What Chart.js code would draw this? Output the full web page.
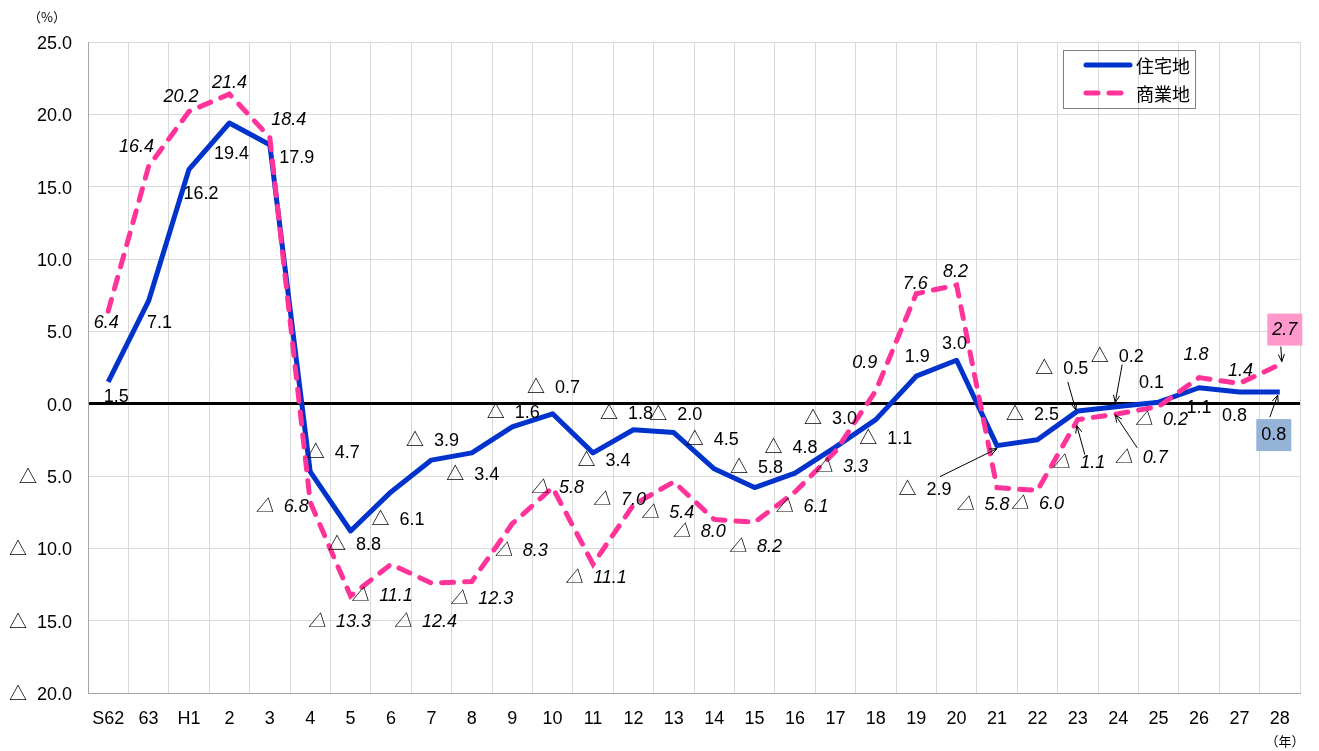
<!DOCTYPE html>
<html><head><meta charset="utf-8">
<script src="https://cdn.jsdelivr.net/npm/chart.js@4"></script>
<style>html,body{margin:0;padding:0;background:#fff;}#wrap{width:1319px;height:751px;position:relative;}</style>
</head><body><div id="wrap"><canvas id="c" width="1319" height="751"></canvas></div>
<script>
const categories = ['S62','63','H1','2','3','4','5','6','7','8','9','10','11','12','13','14','15','16','17','18','19','20','21','22','23','24','25','26','27','28'];
const residential = [1.5,7.1,16.2,19.4,17.9,-4.7,-8.8,-6.1,-3.9,-3.4,-1.6,-0.7,-3.4,-1.8,-2.0,-4.5,-5.8,-4.8,-3.0,-1.1,1.9,3.0,-2.9,-2.5,-0.5,-0.2,0.1,1.1,0.8,0.8];
const commercial = [6.4,16.4,20.2,21.4,18.4,-6.8,-13.3,-11.1,-12.4,-12.3,-8.3,-5.8,-11.1,-7.0,-5.4,-8.0,-8.2,-6.1,-3.3,0.9,7.6,8.2,-5.8,-6.0,-1.1,-0.7,-0.2,1.8,1.4,2.7];
const yTicks = [25,20,15,10,5,0,-5,-10,-15,-20];
const seriesNames = ['住宅地','商業地'];

// label placement (pixel offsets from the data point)
const resOffsets = [[8,15],[11,22],[12,25],[2,31],[27,13],[23,-19],[4,14],[7,28],[1,-19],[1,22],[1,-14],[1,-26],[11,8],[-7,-16],[2,-18],[-2,-29],[2,-20],[-4,-25],[-5,-28],[10,19],[1,-19],[-2,-16],[-72,44],[-5,-25],[-16,-42],[-1,-50],[-7,-19],[0,20],[-5,24],[-6,43]];
const comOffsets = [[-2,12],[-12,-19],[-8,-14],[0,-11],[19,-17],[-28,5],[-11,26],[-9,32],[-6,39],[10,17],[9,27],[5,0],[3,14],[-14,-5],[-6,31],[-15,13],[1,25],[7,15],[6,16],[-11,-28],[-1,-10],[-1,-13],[-14,17],[0,14],[1,43],[23,44],[3,13],[-3,-23],[1,-12],[5,-35]];
const resArrows = {22:[-57,31,0,3],24:[-10,-29,-2,-1],25:[4,-42,-3,-4],29:[-10,25,-2,3]};
const comArrows = {24:[7,35,-1,6],25:[19,34,-3,1],29:[1,-18,2,-3]};
const resBox = {29:'#95B3D7'};
const comBox = {29:'#FF99CC'};

const BLUE = '#0033CC', PINK = '#FF3399';
const FONT = "'Liberation Sans', 'Noto Sans CJK JP', sans-serif";
const JFONT = "'Noto Sans CJK JP', sans-serif";

function fmt(v){ return v < 0 ? '△  ' + Math.abs(v).toFixed(1) : v.toFixed(1); }

function arrow(ctx, x1,y1,x2,y2){
  ctx.beginPath(); ctx.moveTo(x1,y1); ctx.lineTo(x2,y2); ctx.stroke();
  const a = Math.atan2(y2-y1,x2-x1), L=8, w=0.4;
  ctx.beginPath();
  ctx.moveTo(x2 - L*Math.cos(a-w), y2 - L*Math.sin(a-w));
  ctx.lineTo(x2,y2);
  ctx.lineTo(x2 - L*Math.cos(a+w), y2 - L*Math.sin(a+w));
  ctx.stroke();
}

const labelPlugin = {
  id:'labels',
  afterDatasetsDraw(chart){
    const ctx = chart.ctx;
    const sets = [
      {meta: chart.getDatasetMeta(0), data: residential, off: resOffsets, arr: resArrows, box: resBox, italic:false},
      {meta: chart.getDatasetMeta(1), data: commercial, off: comOffsets, arr: comArrows, box: comBox, italic:true}
    ];
    ctx.save();
    sets.forEach(s=>{
      s.data.forEach((v,i)=>{
        const p = s.meta.data[i];
        const x = p.x + s.off[i][0], y = p.y + s.off[i][1];
        const txt = fmt(v);
        ctx.font = (s.italic?'italic ':'') + '18px ' + FONT;
        ctx.textAlign='center'; ctx.textBaseline='middle';
        if (s.box[i]) {
          const w = ctx.measureText(txt).width + 10;
          ctx.fillStyle = s.box[i];
          ctx.fillRect(x - w/2, y - 16, w, 32);
        }
        ctx.fillStyle='#000';
        ctx.fillText(txt, x, y);
        if (s.arr[i]) {
          const a = s.arr[i];
          ctx.strokeStyle='#000'; ctx.lineWidth=1;
          arrow(ctx, p.x+a[0], p.y+a[1], p.x+a[2], p.y+a[3]);
        }
      });
    });
    // axis unit labels
    ctx.font = '13px ' + JFONT; ctx.fillStyle='#000'; ctx.textAlign='center'; ctx.textBaseline='middle';
    ctx.fillText('（%）', 47, 17);
    ctx.fillText('（年）', 1285, 741);
    // legend
    ctx.strokeStyle='#7f7f7f'; ctx.lineWidth=1;
    ctx.strokeRect(1063.5, 50.5, 132, 58);
    ctx.lineCap='round';
    ctx.strokeStyle=BLUE; ctx.lineWidth=5; ctx.setLineDash([]);
    ctx.beginPath(); ctx.moveTo(1086,65); ctx.lineTo(1130,65); ctx.stroke();
    ctx.strokeStyle=PINK; ctx.setLineDash([12,11]);
    ctx.beginPath(); ctx.moveTo(1086,93); ctx.lineTo(1130,93); ctx.stroke();
    ctx.setLineDash([]);
    ctx.font = '18px ' + JFONT; ctx.fillStyle='#000'; ctx.textAlign='left';
    ctx.fillText(seriesNames[0], 1136, 66);
    ctx.fillText(seriesNames[1], 1136, 94);
    ctx.restore();
  }
};

new Chart(document.getElementById('c'), {
  type:'line',
  data:{
    labels: categories,
    datasets:[
      {label:seriesNames[0], data:residential, borderColor:BLUE, borderWidth:5, pointRadius:0, tension:0, order:1, borderJoinStyle:'round'},
      {label:seriesNames[1], data:commercial, borderColor:PINK, borderWidth:5, borderDash:[12,11], borderCapStyle:'round', pointRadius:0, tension:0, order:0}
    ]
  },
  options:{
    responsive:false, animation:false, devicePixelRatio:1,
    layout:{padding:{top:42,right:19,bottom:0,left:0}},
    plugins:{legend:{display:false}, tooltip:{enabled:false}},
    scales:{
      x:{
        offset:true,
        grid:{offset:true, color:'#d9d9d9', drawTicks:false},
        border:{color:'#a6a6a6', width:1},
        ticks:{color:'#000', font:{family:FONT, size:18}, padding:15, maxRotation:0, autoSkip:false},
        afterFit(s){ s.height = 58; }
      },
      y:{
        min:-20, max:25,
        afterBuildTicks(s){ s.ticks = yTicks.map(v=>({value:v})); },
        grid:{drawTicks:false,
          color:c=> c.tick && c.tick.value===0 ? '#000' : '#d9d9d9',
          lineWidth:c=> c.tick && c.tick.value===0 ? 3 : 1},
        border:{color:'#a6a6a6', width:1},
        ticks:{color:'#000', font:{family:FONT, size:18}, padding:16, labelOffset:2, callback:v=>fmt(v)},
        afterFit(s){ s.width = 88; }
      }
    }
  },
  plugins:[labelPlugin]
});
</script>
</body></html>
